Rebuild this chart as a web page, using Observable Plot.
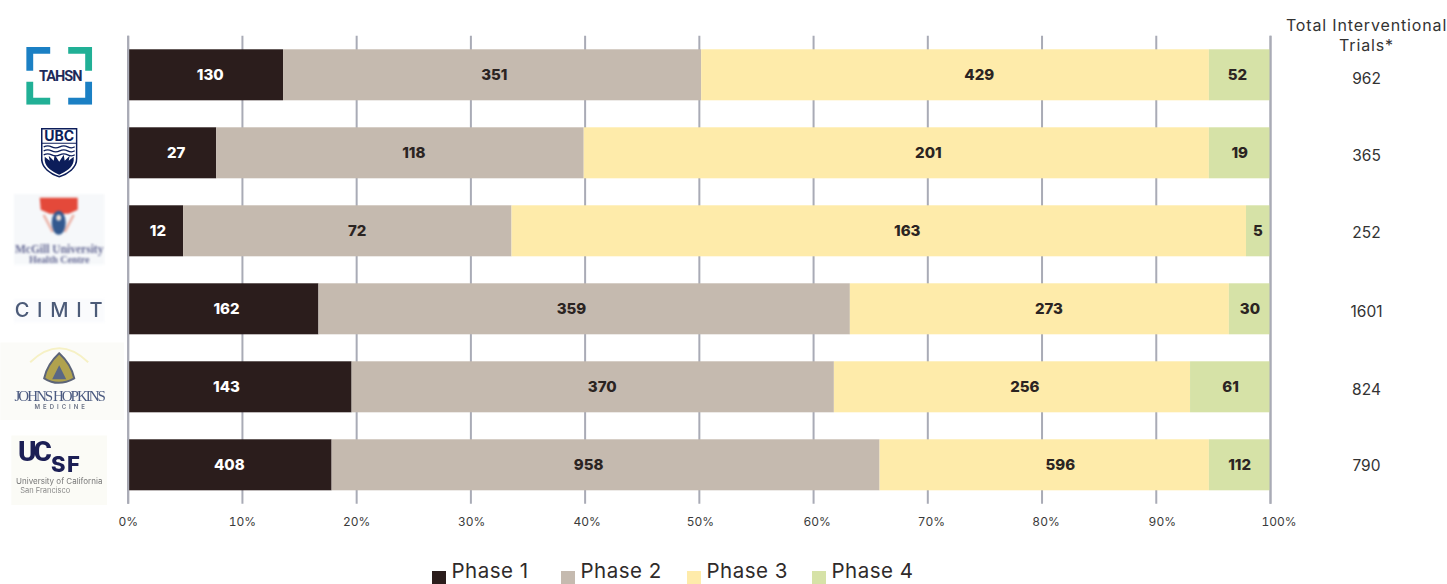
<!DOCTYPE html>
<html><head><meta charset="utf-8">
<script src="https://cdn.jsdelivr.net/npm/d3@7"></script>
<script src="https://cdn.jsdelivr.net/npm/@observablehq/plot@0.6"></script>
<style>
html,body{margin:0;padding:0;background:#fff;overflow:hidden;width:1447px;height:584px}
#chart svg{display:block}
#legend{position:relative;height:22px;font-family:Inter,sans-serif;font-size:20.5px;letter-spacing:.5px;color:#2f2a2a}
#legend i{position:absolute;top:8.6px;width:14px;height:14px}
#legend span{position:absolute;top:-2.8px;line-height:24.6px;white-space:nowrap}
.ls-head text{letter-spacing:.85px}
.ls-tahsn text{letter-spacing:-1px}
.ls-cimit text{letter-spacing:1.2px}
.ls-jh text{letter-spacing:-2px}
.ls-med text{letter-spacing:3px}
.ls-uc text{letter-spacing:-3px}
.ls-sf text{letter-spacing:1.5px}
</style></head><body>
<div id="chart"></div><div id="legend"></div>
<script>
const organisations = ["TAHSN","UBC","McGill","CIMIT","Johns Hopkins","UCSF"];
const phases = ["Phase 1","Phase 2","Phase 3","Phase 4"];
const phaseColors = ["#2b1d1c","#c5baaf","#feebaa","#d6e2a7"];
const shareTable = [[13.6,36.6,44.45,5.35],[7.75,32.17,54.73,5.35],[4.85,28.75,64.3,2.1],[16.7,46.52,33.18,3.6],[19.6,42.22,31.18,7.0],[17.85,47.97,28.83,5.35]];
const trialCounts = [[130,351,429,52],[27,118,201,19],[12,72,163,5],[162,359,273,30],[143,370,256,61],[408,958,596,112]];
const labelAt = [[7.18,32.05,74.5,97.1],[4.2,25.0,70.05,97.3],[2.6,20.05,68.2,98.9],[8.6,38.8,80.6,98.2],[8.6,41.5,78.5,96.5],[8.85,40.3,81.6,97.3]];
const totals = [962,365,252,1601,824,790];
const xTicks = [0,10,20,30,40,50,60,70,80,90,100];

const font = "Inter, sans-serif";
const rows = organisations.flatMap((org,r)=>phases.map((phase,p)=>({org,phase,share:shareTable[r][p],count:trialCounts[r][p],at:labelAt[r][p]})));
const svgUri = s => "data:image/svg+xml;utf8,"+encodeURIComponent(s);
const tahsn = svgUri(`<svg xmlns="http://www.w3.org/2000/svg" viewBox="0 0 66 58"><g fill="none" stroke-width="7"><path d="M24 3.5H3.5V24" stroke="#1b80c4"/><path d="M42 3.5H62.5V24" stroke="#21b096"/><path d="M3.5 35V54.5H24" stroke="#21b096"/><path d="M62.5 35V54.5H42" stroke="#1b80c4"/></g></svg>`);
const ubc = svgUri(`<svg xmlns="http://www.w3.org/2000/svg" viewBox="0 0 37 50"><path d="M1 1H36V31C36 40 27 46 18.5 49 10 46 1 40 1 31Z" fill="#fff" stroke="#0c1d5a" stroke-width="1.6"/><path d="M1 15.5H36" stroke="#0c1d5a"/><g stroke="#0c1d5a" stroke-width="1.3" fill="none"><path d="M3 19q4-2 8 0t8 0 8 0 7 0"/><path d="M3 23q4-2 8 0t8 0 8 0 7 0"/><path d="M3 27q4-2 8 0t8 0 8 0 7 0"/></g><path d="M4 29 9 33 8 28 13 33 14 27 18.5 34 23 27 24 33 29 28 28 33 33 29 33 33C32 40 25 44 18.5 47 12 44 5 40 4 33Z" fill="#0c1d5a"/></svg>`);
const mcgill = svgUri(`<svg xmlns="http://www.w3.org/2000/svg" viewBox="0 0 91 71"><rect width="91" height="71" fill="#f6f8fa"/><path d="M26 4H64V16L55 20H36L27 16Z" fill="#e4493a"/><path d="M30 21 39 38M60 21 51 38" stroke="#ecb3a8" stroke-width="2.5"/><ellipse cx="45" cy="29" rx="7" ry="12" fill="#33598f"/><ellipse cx="45" cy="24" rx="2.5" ry="3" fill="#f1e3d9"/></svg>`);
const hopkins = svgUri(`<svg xmlns="http://www.w3.org/2000/svg" viewBox="0 0 124 78"><rect width="124" height="78" fill="#fbfbf8"/><path d="M59 11Q47 22 44 36 58 45 74 36 71 22 59 11Z" fill="#b0a24e" stroke="#5c6478" stroke-width="2"/><path d="M59 23 52 37H66Z" fill="#596785"/><path d="M30 20Q59-8 88 20" fill="none" stroke="#f6f1c5" stroke-width="2"/></svg>`);
const ucsfBg = svgUri(`<svg xmlns="http://www.w3.org/2000/svg" viewBox="0 0 96 70"><rect width="96" height="70" fill="#fbfbf6"/></svg>`);
const cimitBg = svgUri(`<svg xmlns="http://www.w3.org/2000/svg" viewBox="0 0 91 24"><rect width="91" height="24" fill="#fafbfd"/></svg>`);
const logoImage = (org,src,w,h,dx,dy=0,filter) => Plot.image([org],{y:d=>d,x:()=>0,src:()=>src,width:w,height:h,dx,dy,imageFilter:filter});
const logoText = (org,text,dx,dy,o) => Plot.text([org],{y:d=>d,x:()=>0,text:()=>text,dx,dy,textAnchor:"middle",fontFamily:font,...o});

const totalNudge = [3.5,3,2,3,3,1];
const tickNudge = [0,0,0,.7,2,1,3.5,3.5,4,6,8.5];
const plot = Plot.plot({
  width:1447,height:562,marginTop:35.8,marginBottom:58.2,marginLeft:127.7,marginRight:177,
  style:{background:"transparent"},
  x:{domain:[0,100]},
  y:{domain:organisations,paddingInner:.346,paddingOuter:.173,axis:null,round:false},
  color:{domain:phases,range:phaseColors},
  marks:[
    Plot.ruleX(xTicks,{stroke:"#a9abb6",strokeWidth:2}),
    Plot.barX(rows,{x:"share",y:"org",fill:"phase",order:phases}),
    Plot.ruleX([0,100],{stroke:"#a9abb6",strokeWidth:2}),
    Plot.text(rows,{x:"at",y:"org",text:d=>String(d.count),fill:d=>d.phase==="Phase 1"?"#ffffff":"#2b2422",fontFamily:font,fontWeight:800,fontSize:15}),
    ...xTicks.map((t,i)=>Plot.axisX([t],{tickSize:0,tickPadding:13.5,tickFormat:d=>d+"%",fontSize:12,fontFamily:font,color:"#3b3b3b",label:null,anchor:"bottom",dx:tickNudge[i]})),
    ...totals.map((t,i)=>Plot.text([organisations[i]],{y:d=>d,x:()=>100,text:()=>String(t),dx:96,dy:totalNudge[i],fontSize:15.5,fontFamily:font,fill:"#333"})),
    Plot.text(["Total Interventional\nTrials*"],{x:()=>100,frameAnchor:"top",dx:96,dy:-19.5,lineHeight:1.25,lineAnchor:"top",fontSize:16,className:"ls-head",fontFamily:font,fill:"#333"}),
    logoImage("TAHSN",tahsn,66,58,-69,.5),
    logoText("TAHSN","TAHSN",-68,1,{fontSize:14.5,fontWeight:700,fontFamily:"Roboto",className:"ls-tahsn",fill:"#1d2a5a"}),
    logoImage("UBC",ubc,37,50,-69,-.5),
    logoText("UBC","UBC",-69,-16.5,{fontSize:14,fontWeight:700,fill:"#0c1d5a"}),
    logoImage("McGill",mcgill,91,71,-69,-2,"blur(.8px)"),
    logoText("McGill","McGill University",-69,18.5,{fontSize:11.5,fontWeight:600,fontFamily:"Liberation Serif",fill:"#666a95",imageFilter:"blur(.8px)"}),
    logoText("McGill","Health Centre",-69,28.5,{fontSize:10,fontWeight:600,fontFamily:"Liberation Serif",fill:"#666a95",imageFilter:"blur(.8px)"}),
    logoImage("CIMIT",cimitBg,91,24,-69,1.5,"blur(1px)"),
    logoText("CIMIT","C I M I T",-69,1.5,{fontSize:20,fontWeight:500,className:"ls-cimit",fill:"#4c5b78",imageFilter:"blur(.7px)"}),
    logoImage("Johns Hopkins",hopkins,124,78,-66,-6,"blur(.7px)"),
    logoText("Johns Hopkins","JOHNS HOPKINS",-69,9,{fontSize:15,className:"ls-jh",fontFamily:"Liberation Serif",fill:"#4b5a80",imageFilter:"blur(.6px)"}),
    logoText("Johns Hopkins","MEDICINE",-67,20,{fontSize:6,fontWeight:600,className:"ls-med",fill:"#6a7285",imageFilter:"blur(.5px)"}),
    logoImage("UCSF",ucsfBg,96,70,-69,5),
    logoText("UCSF","UC",-94.7,-13.5,{fontSize:28,fontWeight:800,fontFamily:"Roboto",className:"ls-uc",fill:"#1c1f55",imageFilter:"blur(.5px)"}),
    logoText("UCSF","SF",-62,0,{fontSize:22,fontWeight:800,className:"ls-sf",fill:"#1c1f55",imageFilter:"blur(.5px)"}),
    logoText("UCSF","University of California",-69,16,{fontSize:8,fill:"#777",imageFilter:"blur(.6px)"}),
    logoText("UCSF","San Francisco",-83,25,{fontSize:7.5,fill:"#888",imageFilter:"blur(.6px)"})
  ]
});
document.getElementById("chart").append(plot);
const lx=[432,561,687,812];
const legend=document.getElementById("legend");
phases.forEach((p,i)=>{
  const sw=document.createElement("i");sw.style.left=lx[i]+"px";sw.style.background=phaseColors[i];
  const t=document.createElement("span");t.style.left=(lx[i]+19.5)+"px";t.textContent=p;
  legend.append(sw,t);
});
</script></body></html>
